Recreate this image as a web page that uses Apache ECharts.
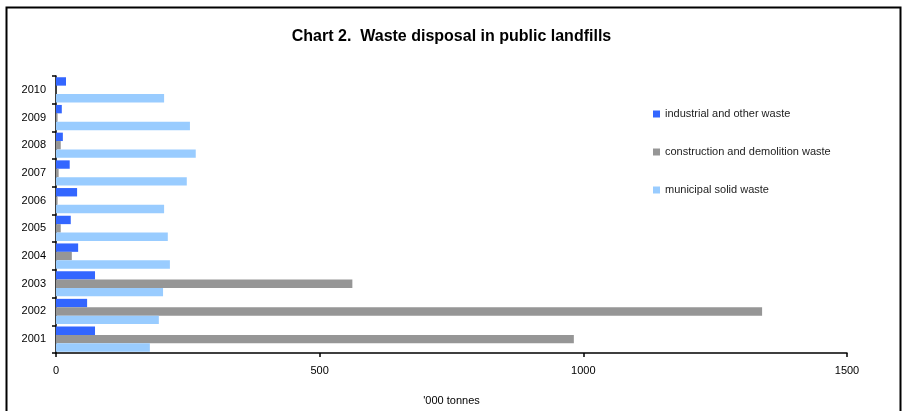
<!DOCTYPE html>
<html>
<head>
<meta charset="utf-8">
<script src="https://cdn.jsdelivr.net/npm/echarts@6/dist/echarts.min.js"></script>
<style>html,body{margin:0;padding:0;background:#fff;}#c{width:903px;height:411px;}</style>
</head>
<body>
<div id="c"></div>
<script>
const years = ['2001','2002','2003','2004','2005','2006','2007','2008','2009','2010'];
const industrial = [74, 59, 74, 42, 28, 40, 26, 13, 11, 19];
const construction = [982, 1339, 562, 30, 9, 3, 5, 9, 3, 0];
const municipal = [178, 195, 203, 216, 212, 205, 248, 265, 254, 205];
const xTicks = [0, 500, 1000, 1500];

const chart = echarts.init(document.getElementById('c'), null, {renderer: 'canvas'});
const font = 'Liberation Sans, Arial, Helvetica, sans-serif';
chart.setOption({
  animation: false,
  backgroundColor: '#fff',
  title: {
    text: 'Chart 2.  Waste disposal in public landfills',
    left: 'center', top: 24,
    textStyle: {fontFamily: font, fontSize: 16, fontWeight: 'bold', color: '#000'}
  },
  graphic: [{
    type: 'rect', left: 4, top: 5,
    shape: {width: 894, height: 430},
    style: {fill: 'none', stroke: '#000', lineWidth: 2},
    silent: true
  }],
  legend: {
    orient: 'vertical', left: 653, top: 108, padding: 0,
    data: ['industrial and other waste', 'construction and demolition waste', 'municipal solid waste'],
    itemWidth: 7, itemHeight: 7, itemGap: 26, itemTextGap: 3,
    icon: 'rect',
    textStyle: {fontFamily: font, fontSize: 11, color: '#222', lineHeight: 12}
  },
  grid: {left: 56, right: 56, top: 76, bottom: 56, containLabel: false},
  xAxis: {
    type: 'value', min: xTicks[0], max: xTicks[xTicks.length - 1], interval: 500,
    name: "'000 tonnes", nameLocation: 'middle', nameGap: 42,
    nameTextStyle: {fontFamily: font, fontSize: 11, color: '#000'},
    axisLine: {show: true, lineStyle: {color: '#000', width: 1.5}},
    axisTick: {show: true, length: 4, lineStyle: {color: '#000', width: 1.5}},
    axisLabel: {fontFamily: font, fontSize: 11, color: '#000', margin: 12,
      formatter: v => String(v)},
    splitLine: {show: false}
  },
  yAxis: {
    type: 'category', data: years,
    axisLine: {show: true, lineStyle: {color: '#000', width: 1.5}},
    axisTick: {show: true, length: 4, lineStyle: {color: '#000', width: 1.5}},
    axisLabel: {fontFamily: font, fontSize: 11, color: '#000', margin: 10},
    splitLine: {show: false}
  },
  series: [
    {name: 'industrial and other waste', type: 'bar', data: industrial,
     itemStyle: {color: '#3366FF'}, barGap: '0%', barCategoryGap: '9%'},
    {name: 'construction and demolition waste', type: 'bar', data: construction,
     itemStyle: {color: '#969696'}, barGap: '0%', barCategoryGap: '9%'},
    {name: 'municipal solid waste', type: 'bar', data: municipal,
     itemStyle: {color: '#99CCFF'}, barGap: '0%', barCategoryGap: '9%'}
  ]
});
</script>
</body>
</html>
